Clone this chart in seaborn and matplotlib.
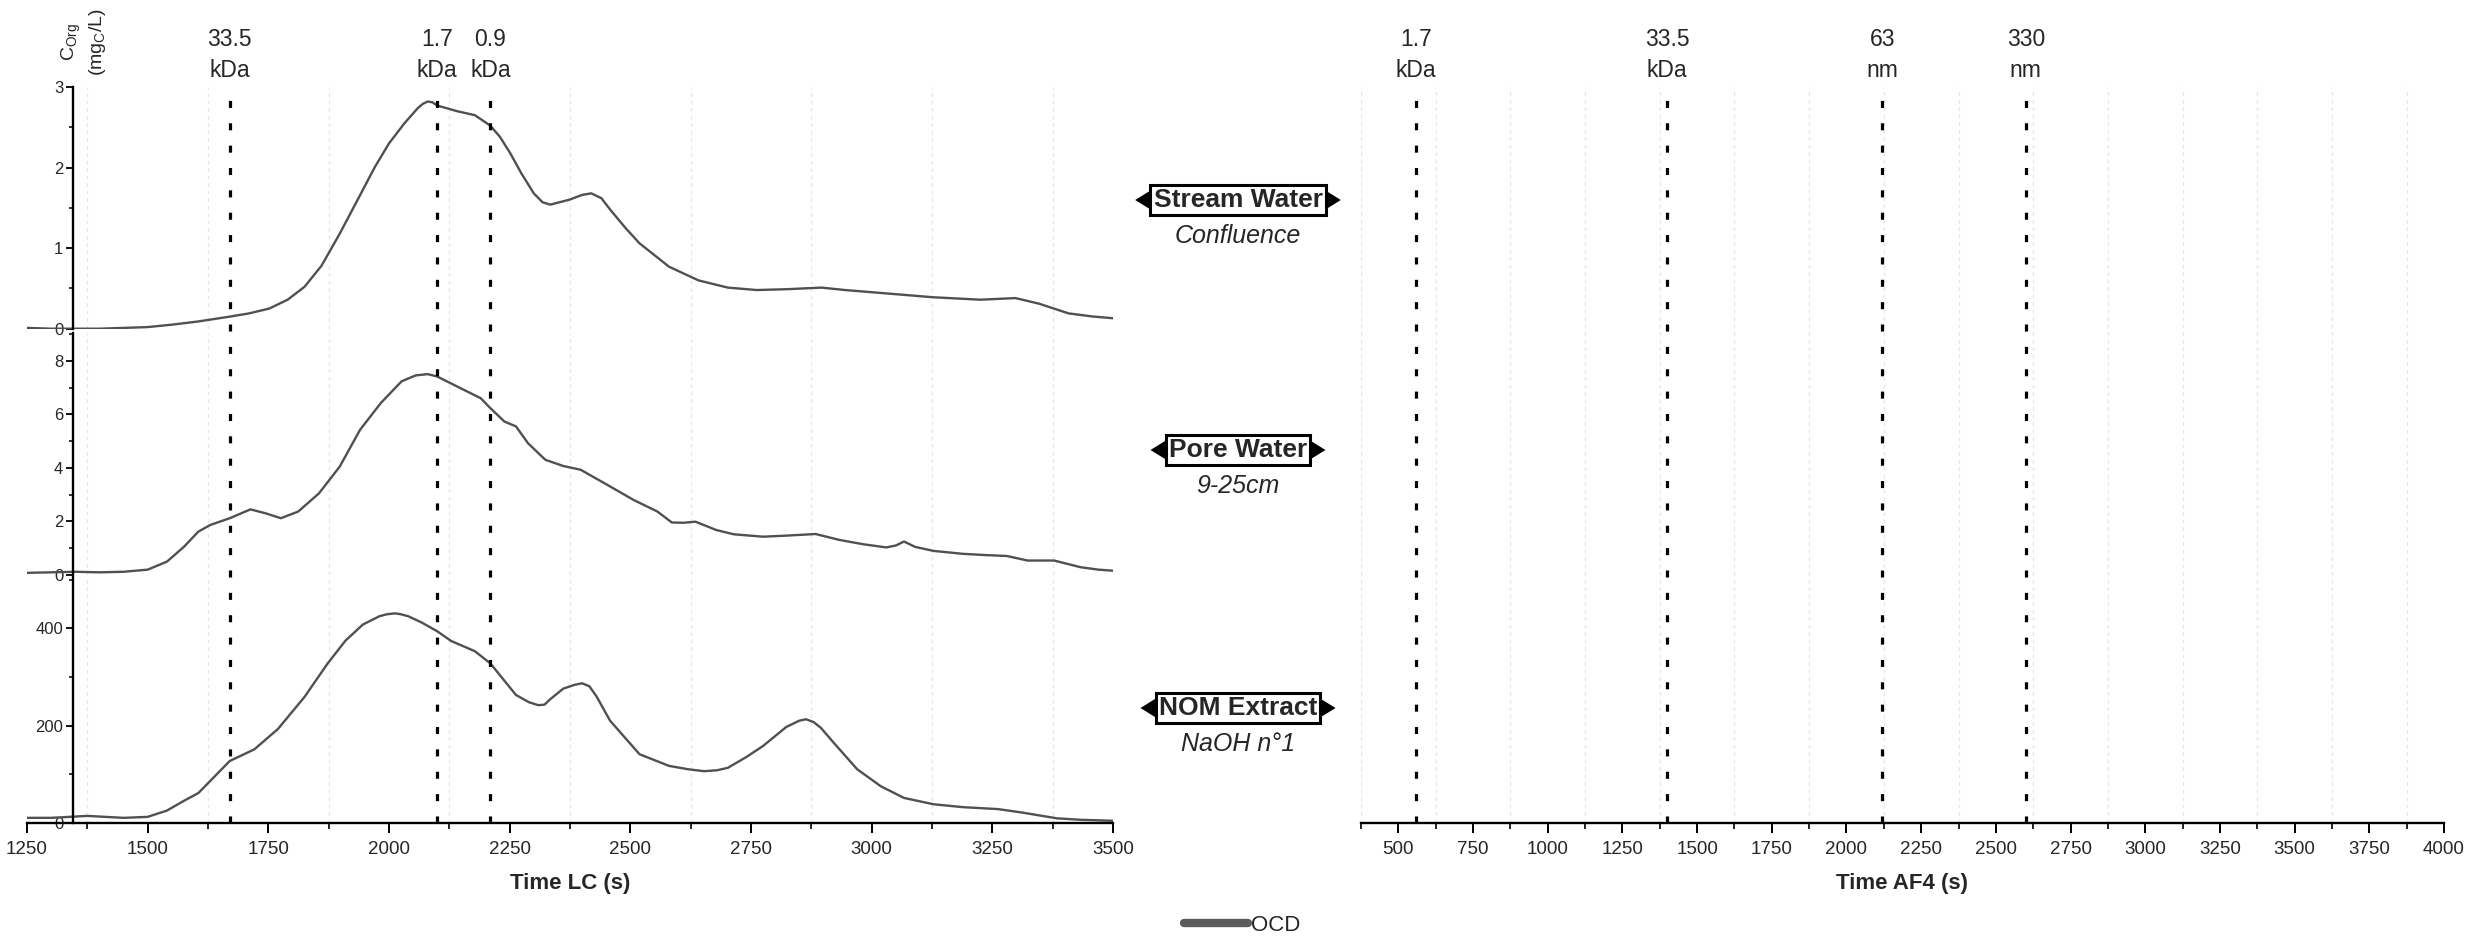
import matplotlib
matplotlib.use("Agg")
import matplotlib.pyplot as plt
from matplotlib.lines import Line2D
from matplotlib.patches import Polygon
from matplotlib.ticker import MultipleLocator
import seaborn as sns

# ---------------- data ----------------
# Stream water (Confluence), organic carbon detector signal, mgC/L
stream_time = [1250, 1300, 1350, 1400, 1450, 1500, 1550, 1605, 1670, 1710,
               1752, 1790, 1825, 1860, 1898, 1935, 1971, 2000, 2032, 2060,
               2070, 2080, 2090, 2100, 2141, 2178, 2210, 2230, 2251, 2275,
               2300, 2318, 2334, 2373, 2400, 2419, 2440, 2458, 2490, 2519,
               2580, 2641, 2702, 2762, 2823, 2896, 2945, 3067, 3128, 3225,
               3298, 3347, 3408, 3460, 3500]
stream_ocd = [0.01, 0.00, 0.00, 0.00, 0.01, 0.02, 0.05, 0.09, 0.15, 0.19,
              0.25, 0.36, 0.52, 0.78, 1.18, 1.60, 2.01, 2.30, 2.55, 2.74,
              2.79, 2.82, 2.81, 2.77, 2.70, 2.65, 2.52, 2.38, 2.18, 1.92,
              1.68, 1.57, 1.54, 1.60, 1.66, 1.68, 1.62, 1.48, 1.25, 1.06,
              0.77, 0.60, 0.51, 0.48, 0.49, 0.51, 0.48, 0.42, 0.39, 0.36,
              0.38, 0.31, 0.19, 0.15, 0.13]

# Pore water (9-25 cm)
pore_time = [1250, 1300, 1350, 1400, 1450, 1500, 1540, 1575, 1605, 1630,
             1670, 1713, 1745, 1776, 1812, 1855, 1898, 1940, 1983, 2026,
             2055, 2080, 2100, 2141, 2190, 2210, 2239, 2263, 2288, 2324,
             2361, 2397, 2446, 2507, 2556, 2586, 2610, 2635, 2678, 2714,
             2775, 2823, 2884, 2933, 2982, 3030, 3050, 3067, 3090, 3128,
             3189, 3240, 3280, 3323, 3378, 3433, 3470, 3500]
pore_ocd = [0.08, 0.10, 0.12, 0.10, 0.12, 0.20, 0.50, 1.05, 1.62, 1.87,
            2.12, 2.45, 2.30, 2.12, 2.37, 3.05, 4.05, 5.42, 6.42, 7.23,
            7.45, 7.50, 7.41, 7.04, 6.60, 6.23, 5.73, 5.55, 4.92, 4.30,
            4.07, 3.93, 3.43, 2.80, 2.37, 1.96, 1.95, 1.99, 1.68, 1.52,
            1.43, 1.47, 1.53, 1.31, 1.15, 1.03, 1.10, 1.25, 1.05, 0.90,
            0.79, 0.74, 0.71, 0.54, 0.54, 0.29, 0.20, 0.16]

# NOM extract (NaOH n°1)
nom_time = [1250, 1300, 1375, 1450, 1500, 1540, 1575, 1605, 1670, 1721,
            1770, 1825, 1873, 1910, 1946, 1980, 1995, 2013, 2025, 2040,
            2068, 2100, 2129, 2178, 2210, 2263, 2290, 2309, 2322, 2335,
            2361, 2385, 2400, 2415, 2430, 2458, 2519, 2580, 2620, 2653,
            2680, 2702, 2740, 2775, 2823, 2850, 2864, 2880, 2895, 2921,
            2970, 3019, 3067, 3128, 3189, 3262, 3311, 3384, 3433, 3500]
nom_ocd = [10, 10, 14, 10, 12, 25, 45, 61, 127, 151,
           193, 259, 328, 375, 408, 425, 429, 431, 429, 425,
           412, 394, 374, 353, 328, 263, 248, 242, 243, 255,
           276, 284, 287, 281, 260, 210, 141, 117, 110, 106,
           108, 113, 135, 158, 197, 210, 213, 207, 195, 165,
           110, 75, 51, 38, 32, 28, 21, 9, 6, 4]

sample_titles = ["Stream Water", "Pore Water", "NOM Extract"]
sample_subtitles = ["Confluence", "9-25cm", "NaOH n\u00b01"]
y_limits = [3.0, 9.05, 505]
y_major = [1, 2, 200]
y_minor = [0.5, 1, 100]

# calibration markers
lc_marker_time = [1670, 2100, 2210]
lc_marker_text = ["33.5\nkDa", "1.7\nkDa", "0.9\nkDa"]
af4_marker_time = [560, 1400, 2120, 2600]
af4_marker_text = ["1.7\nkDa", "33.5\nkDa", "63\nnm", "330\nnm"]

lc_range = (1250, 3500)
af4_range = (375, 4000)

# ---------------- style ----------------
sns.set_theme(style="white")
plt.rcParams["font.family"] = ["Liberation Sans", "DejaVu Sans"]
plt.rcParams["mathtext.default"] = "regular"

LINE = "#505050"
GRID = "#e6e6e6"

W, H = 2466, 938
fig = plt.figure(figsize=(W / 100, H / 100), dpi=100)


def rect(x0, top, x1, bottom):
    return [x0 / W, 1 - bottom / H, (x1 - x0) / W, (bottom - top) / H]


LX0, LX1 = 27, 1113
RX0, RX1 = 1361, 2444
rows = [(87, 328.7), (332.6, 575), (577.4, 822.7)]
series = [(stream_time, stream_ocd), (pore_time, pore_ocd), (nom_time, nom_ocd)]
SPINE_X = 1345


def style_x(ax, show):
    ax.xaxis.set_major_locator(MultipleLocator(250))
    ax.xaxis.set_minor_locator(MultipleLocator(125))
    ax.grid(False)
    ax.grid(which="minor", axis="x", color=GRID, lw=0.9, ls=(0, (3, 3)))
    if show:
        ax.spines["bottom"].set_linewidth(1.7)
        ax.spines["bottom"].set_color("black")
        ax.tick_params(axis="x", which="major", direction="out", length=7, width=1.4,
                       color="black", labelsize=13.5, pad=6, bottom=True)
        ax.tick_params(axis="x", which="minor", direction="out", length=4, width=1.2,
                       color="black", bottom=True)
    else:
        ax.spines["bottom"].set_visible(False)
        ax.tick_params(axis="x", which="both", bottom=False, labelbottom=False)


axes = []
for i, ((top, bottom), (t, v)) in enumerate(zip(rows, series)):
    ax = fig.add_axes(rect(LX0, top, LX1, bottom))
    ax.patch.set_alpha(0)
    sns.lineplot(x=t, y=v, ax=ax, color=LINE, lw=1.7, estimator=None, sort=False)
    ax.set_xlim(*lc_range)
    ax.set_ylim(0, y_limits[i])
    ax.yaxis.set_major_locator(MultipleLocator(y_major[i]))
    ax.yaxis.set_minor_locator(MultipleLocator(y_minor[i]))
    for s in ("top", "right"):
        ax.spines[s].set_visible(False)
    ax.spines["left"].set_position(("data", SPINE_X))
    ax.spines["left"].set_linewidth(1.7)
    ax.spines["left"].set_color("black")
    ax.tick_params(axis="y", which="major", direction="out", length=5, width=1.3,
                   color="black", labelsize=12, pad=2, left=True)
    ax.tick_params(axis="y", which="minor", direction="out", length=3, width=1.1,
                   color="black", left=True)
    style_x(ax, show=(i == 2))
    ax.set_xlabel("")
    ax.set_ylabel("")
    axes.append(ax)

axes[2].set_xlabel("Time LC (s)", fontsize=16, fontweight="bold", labelpad=11)

# overlay spanning the three LC panels for the calibration markers
ov = fig.add_axes(rect(LX0, rows[0][0], LX1, rows[2][1]))
ov.set_xlim(*lc_range)
ov.set_ylim(0, 1)
ov.axis("off")

# AF4 panel
axr = fig.add_axes(rect(RX0, rows[0][0], RX1, rows[2][1]))
axr.patch.set_alpha(0)
axr.set_xlim(*af4_range)
axr.set_ylim(0, 1)
for s in ("top", "right", "left"):
    axr.spines[s].set_visible(False)
axr.tick_params(axis="y", which="both", left=False, labelleft=False)
style_x(axr, show=True)
axr.set_xlabel("Time AF4 (s)", fontsize=16, fontweight="bold", labelpad=11)


def markers(ax, xs, labels):
    for x, lab in zip(xs, labels):
        ax.axvline(x, color="black", lw=2.3, ls=(0, (2.2, 4.8)), zorder=5)
        ax.annotate(lab, xy=(x, 1), xycoords=("data", "axes fraction"),
                    xytext=(0, 23), textcoords="offset points",
                    ha="center", va="center", fontsize=16.5, linespacing=1.4)


markers(ov, lc_marker_time, lc_marker_text)
markers(axr, af4_marker_time, af4_marker_text)

# y axis title
fig.text(84 / W, 1 - 42 / H, "C$_{Org}$\n(mg$_{C}$/L)", rotation=90,
         ha="center", va="center", fontsize=14, linespacing=1.25)

# sample tags between the panels
tag_y = [200, 450, 708]
tags = []
for y, title, sub in zip(tag_y, sample_titles, sample_subtitles):
    tt = fig.text(1238 / W, 1 - y / H, title, ha="center", va="center",
                  fontsize=19, fontweight="bold",
                  bbox=dict(boxstyle="square,pad=0.12", fc="white", ec="black", lw=2.2))
    fig.text(1238 / W, 1 - (y + 36) / H, sub, ha="center", va="center",
             fontsize=18, style="italic")
    tags.append(tt)

# legend
fig.legend(handles=[Line2D([0], [0], color="#5c5c5c", lw=6, solid_capstyle="round")],
           labels=["OCD"], loc="center", bbox_to_anchor=(1242 / W, 1 - 925 / H),
           frameon=False, fontsize=16, handlelength=2.9, handletextpad=0.1)

# arrow heads on both sides of each tag box
fig.canvas.draw()
inv = fig.transFigure.inverted()
for tt in tags:
    bb = tt.get_bbox_patch().get_window_extent()
    h = bb.height
    th, tw = 0.62 * h, 0.5 * h
    yc = 0.5 * (bb.y0 + bb.y1)
    left = [(bb.x0, yc + th / 2), (bb.x0, yc - th / 2), (bb.x0 - tw, yc)]
    right = [(bb.x1, yc + th / 2), (bb.x1, yc - th / 2), (bb.x1 + tw, yc)]
    for pts in (left, right):
        fig.add_artist(Polygon(inv.transform(pts), closed=True,
                               transform=fig.transFigure, fc="black", ec="none"))

fig.savefig("out.png", dpi=100)
